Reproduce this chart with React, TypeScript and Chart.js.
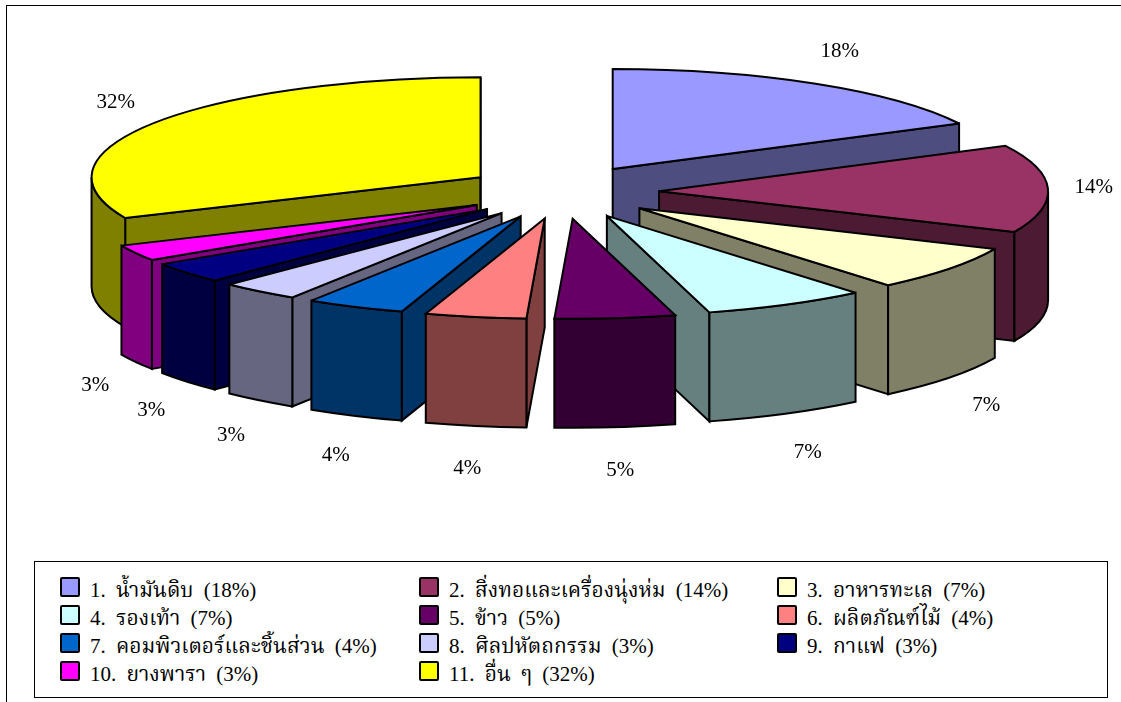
import React, { useEffect, useRef } from "react";
import { Chart, registerables } from "chart.js";

Chart.register(...registerables);

const categories = [
  "1. น้ำมันดิบ",
  "2. สิ่งทอและเครื่องนุ่งห่ม",
  "3. อาหารทะเล",
  "4. รองเท้า",
  "5. ข้าว",
  "6. ผลิตภัณฑ์ไม้",
  "7. คอมพิวเตอร์และชิ้นส่วน",
  "8. ศิลปหัตถกรรม",
  "9. กาแฟ",
  "10. ยางพารา",
  "11. อื่น ๆ",
];
const shares = [17.5, 14.2, 7.3, 6.8, 5.0, 4.2, 4.1, 3.3, 3.4, 2.6, 31.7];
const topColors = [
  "#9999FF", "#993366", "#FFFFCC", "#CCFFFF", "#660066", "#FF8080",
  "#0066CC", "#CCCCFF", "#000080", "#FF00FF", "#FFFF00",
];
const wallColors = [
  "#4D4D80", "#4D1A33", "#808066", "#668080", "#330033", "#804040",
  "#003366", "#666680", "#000040", "#800080", "#808000",
];

const FONT = '"Liberation Serif", "Noto Serif Thai", "Noto Sans Thai", "DejaVu Serif", serif';
const RX = 389;
const RY = 100;
const DEPTH = 109;
const EXPLODE_Y = 1.08;
const LABEL_RX = 532;
const LABEL_RY = 165;

const pie3d = {
  id: "pie3d",
  beforeDatasetDraw() {
    return false;
  },
  afterDatasetsDraw(chart: any) {
    const { ctx } = chart;
    const arcs = chart.getDatasetMeta(0).data as any[];
    const values = chart.data.datasets[0].data as number[];
    const order = arcs
      .map((el, i) => ({ el, i, mid: (el.startAngle + el.endAngle) / 2 }))
      .sort((a, b) => Math.sin(a.mid) - Math.sin(b.mid));

    ctx.save();
    ctx.lineWidth = 2;
    ctx.lineJoin = "miter";
    ctx.miterLimit = 3;
    ctx.strokeStyle = "#000";

    for (const { el, i, mid } of order) {
      const sx = RX / el.outerRadius;
      const sy = (RY / el.outerRadius) * EXPLODE_Y;
      const off = el.options.offset;
      const ox = el.x + Math.cos(mid) * off * sx;
      const oy = el.y + Math.sin(mid) * off * sy;
      const rim = (a: number) => [ox + RX * Math.cos(a), oy + RY * Math.sin(a)];
      const start = el.startAngle;
      const end = el.endAngle;

      const face = (a: number) => {
        const [x, y] = rim(a);
        ctx.beginPath();
        ctx.moveTo(ox, oy);
        ctx.lineTo(x, y);
        ctx.lineTo(x, y + DEPTH);
        ctx.lineTo(ox, oy + DEPTH);
        ctx.closePath();
        ctx.fillStyle = wallColors[i];
        ctx.fill();
        ctx.stroke();
      };
      if (Math.sin(start - Math.PI / 2) > 0) face(start);
      if (Math.sin(end + Math.PI / 2) > 0) face(end);

      const a1 = Math.max(start, 0);
      const a2 = Math.min(end, Math.PI);
      if (a2 > a1) {
        ctx.beginPath();
        ctx.ellipse(ox, oy, RX, RY, 0, a1, a2);
        ctx.ellipse(ox, oy + DEPTH, RX, RY, 0, a2, a1, true);
        ctx.closePath();
        ctx.fillStyle = wallColors[i];
        ctx.fill();
        ctx.stroke();
      }

      ctx.beginPath();
      ctx.moveTo(ox, oy);
      ctx.ellipse(ox, oy, RX, RY, 0, start, end);
      ctx.closePath();
      ctx.fillStyle = topColors[i];
      ctx.fill();
      ctx.stroke();
    }

    ctx.fillStyle = "#000";
    ctx.font = `21px ${FONT}`;
    ctx.textAlign = "center";
    ctx.textBaseline = "middle";
    arcs.forEach((el, i) => {
      const mid = (el.startAngle + el.endAngle) / 2;
      const s = Math.sin(mid);
      const x = el.x + LABEL_RX * Math.cos(mid);
      const y = el.y + LABEL_RY * s + (s > 0.05 ? DEPTH + 5 : 0);
      ctx.fillText(`${Math.round(values[i])}%`, x, y);
    });
    ctx.restore();
  },
};

export default function App() {
  const ref = useRef<HTMLCanvasElement>(null);
  useEffect(() => {
    const chart = new Chart(ref.current!, {
      type: "pie",
      data: {
        labels: categories,
        datasets: [
          {
            data: shares,
            backgroundColor: topColors,
            borderColor: "#000",
            borderWidth: 1,
            offset: 42.5,
          },
        ],
      },
      options: {
        animation: false,
        responsive: false,
        layout: { padding: { left: 3, bottom: 318 } },
        plugins: { legend: { display: false }, tooltip: { enabled: false } },
      },
      plugins: [pie3d],
    } as any);
    return () => chart.destroy();
  }, []);

  const rowTops = [577, 605, 633, 661];
  const colLefts = [60, 419, 777];

  return (
    <div style={{ position: "fixed", left: 0, top: 0, width: 1121, height: 702, background: "#fff", overflow: "hidden" }}>
      <canvas ref={ref} width={1121} height={702} style={{ position: "absolute", left: 0, top: 0, width: 1121, height: 702 }} />
      <div style={{ position: "absolute", left: 6, top: 5, width: 1115, height: 697, borderLeft: "1px solid #000", borderTop: "1px solid #000", boxSizing: "border-box" }} />
      <div style={{ position: "absolute", left: 34, top: 561, width: 1074, height: 137, border: "1px solid #000", boxSizing: "border-box", background: "#fff" }} />
      {categories.map((c, i) => {
        const col = i % 3;
        const row = Math.floor(i / 3);
        return (
          <React.Fragment key={c}>
            <div style={{ position: "absolute", left: colLefts[col], top: rowTops[row], width: 20, height: 20, background: topColors[i], border: "2px solid #000", borderRadius: 2, boxSizing: "border-box" }} />
            <div style={{ position: "absolute", left: colLefts[col] + 30, top: rowTops[row] - 1, height: 28, lineHeight: "28px", fontFamily: FONT, fontSize: 21, wordSpacing: 5, whiteSpace: "nowrap", color: "#000" }}>
              {`${c} (${Math.round(shares[i])}%)`}
            </div>
          </React.Fragment>
        );
      })}
    </div>
  );
}
